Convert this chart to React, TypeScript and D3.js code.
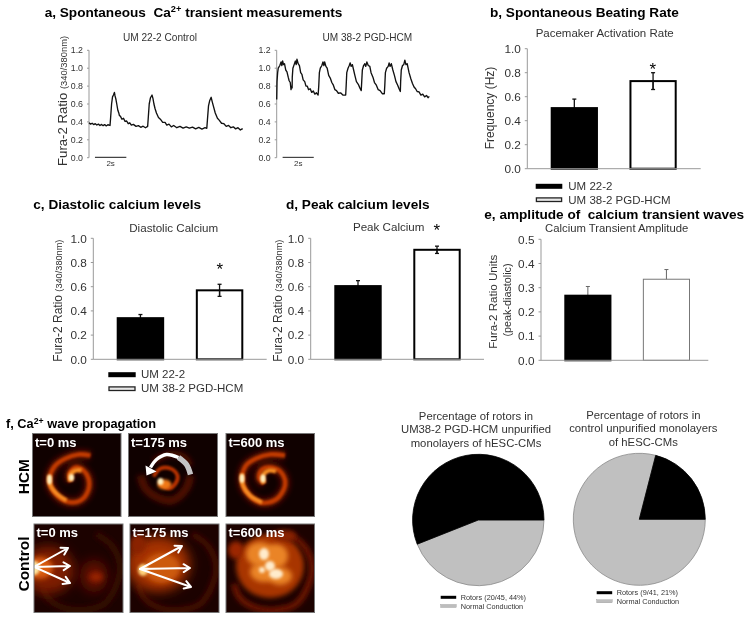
import React from "react";
import * as d3 from "d3";

const FONT = "'Liberation Sans', Arial, Helvetica, sans-serif";
const INK = "#333";

// ---------- panel a: traces [seconds, ratio] ----------
const traceControl: [number, number][] = [
  [0,.39],[.1,.375],[.2,.385],[.3,.37],[.4,.38],[.5,.365],[.6,.375],[.7,.36],[.8,.372],[.9,.358],[1,.37],[1.1,.355],[1.2,.368],[1.34,.36],
  [1.38,.45],[1.44,.6],[1.5,.68],[1.56,.7],[1.62,.73],[1.66,.69],[1.72,.65],[1.77,.6],[1.84,.53],[1.9,.5],[1.94,.47],[2,.465],[2.1,.43],[2.2,.44],[2.3,.405],[2.4,.41],[2.5,.38],[2.6,.39],[2.7,.365],[2.83,.372],[3,.35],[3.15,.358],[3.3,.34],[3.45,.352],[3.6,.335],[3.74,.35],
  [3.78,.45],[3.84,.6],[3.92,.67],[4.02,.7],[4.08,.66],[4.14,.6],[4.21,.55],[4.3,.5],[4.43,.45],[4.55,.43],[4.7,.395],[4.85,.395],[4.96,.365],[5.1,.375],[5.25,.345],[5.4,.36],[5.6,.335],[5.8,.35],[6,.33],[6.2,.345],[6.4,.33],[6.6,.342],[6.8,.322],[7,.338],[7.2,.32],[7.4,.335],[7.51,.328],
  [7.55,.42],[7.62,.58],[7.7,.64],[7.79,.675],[7.85,.63],[7.94,.57],[8.05,.5],[8.19,.44],[8.3,.42],[8.45,.385],[8.6,.38],[8.75,.35],[8.9,.36],[9.05,.335],[9.2,.345],[9.35,.322],[9.5,.335],[9.65,.31],[9.8,.325],
];
const traceHCM: [number, number][] = [
  [0,.65],[.02,.85],[.06,.95],[.1,1.0],[.2,1.03],[.28,1.07],[.33,1.03],[.38,1.08],[.44,1.04],[.5,1.05],[.58,.98],[.66,.96],[.74,.9],[.8,.86],[.87,.84],[.92,.76],[.96,.8],
  [.99,.78],[1.0,.9],[1.04,1.0],[1.12,1.04],[1.2,1.08],[1.25,1.04],[1.3,1.1],[1.38,1.05],[1.46,1.03],[1.54,.95],[1.62,.93],[1.7,.87],[1.8,.85],[1.88,.8],[1.96,.8],[2.05,.76],[2.15,.77],[2.25,.73],[2.35,.745],[2.45,.71],[2.55,.725],[2.66,.7],
  [2.7,.8],[2.74,.95],[2.8,1.0],[2.9,1.03],[2.97,1.07],[3.03,1.03],[3.08,1.07],[3.16,1.02],[3.24,1.0],[3.34,.92],[3.44,.89],[3.54,.84],[3.64,.81],[3.74,.76],[3.84,.75],[3.96,.72],[4.1,.725],[4.25,.7],[4.43,.7],
  [4.46,.8],[4.5,.95],[4.58,1.0],[4.66,1.03],[4.72,1.06],[4.78,1.02],[4.86,1.04],[4.94,.98],[5.02,.92],[5.12,.85],[5.24,.82],[5.34,.78],[5.43,.75],
  [5.46,.85],[5.5,.98],[5.58,1.03],[5.66,1.05],[5.72,1.02],[5.79,1.07],[5.88,1.03],[5.98,1.02],[6.06,.95],[6.18,.9],[6.28,.84],[6.4,.81],[6.52,.76],[6.64,.75],[6.78,.715],[6.91,.715],
  [6.94,.8],[6.98,.95],[7.06,1.0],[7.16,1.02],[7.22,1.06],[7.28,1.02],[7.36,1.05],[7.46,.98],[7.56,.92],[7.66,.85],[7.77,.81],[7.86,.77],[7.94,.74],
  [7.96,.85],[8.0,.98],[8.08,1.03],[8.16,1.04],[8.23,1.09],[8.3,1.04],[8.38,1.05],[8.5,.95],[8.62,.88],[8.72,.83],[8.82,.79],[8.92,.77],[9.02,.74],[9.14,.735],[9.26,.7],[9.38,.71],[9.5,.68],[9.62,.695],[9.72,.67],[9.8,.685],
];
const traceYTicks = [0, 0.2, 0.4, 0.6, 0.8, 1.0, 1.2];

// ---------- bars ----------
const groupNames = ["UM 22-2", "UM 38-2 PGD-HCM"];
const rateValues = [0.505, 0.73];
const rateHigh = [0.58, 0.80];
const rateLow = [0.505, 0.66];
const diastolicValues = [0.34, 0.57];
const diastolicHigh = [0.37, 0.62];
const diastolicLow = [0.34, 0.52];
const peakValues = [0.605, 0.905];
const peakHigh = [0.65, 0.935];
const peakLow = [0.605, 0.875];
const ampValues = [0.267, 0.335];
const ampHigh = [0.305, 0.375];
const ampLow = [0.267, 0.335];
const ticksUnit = [0, 0.2, 0.4, 0.6, 0.8, 1.0];
const ticksAmp = [0, 0.1, 0.2, 0.3, 0.4, 0.5];

// ---------- pies ----------
const pieLabels = ["Normal Conduction", "Rotors"];
const pieHCM = [44, 56];
const pieControl = [79, 21];
const pieColors = ["#c0c0c0", "#000"];

// ---------- heat-map curves, points in panel pixels ----------
type P = [number, number];
const spiral0: P[] = [[58,22],[46,21],[33,25],[22,33],[17,47],[21,58],[34,68],[48,67],[56,56],[56,45],[51,37],[43,34],[37,40],[38,48]];
const spiral0Hot1: P[] = [[17,42],[18,52],[24,60],[34,67]];
const spiral0Hot2: P[] = [[38,48],[38,41],[43,37],[49,37]];
const spiral600: P[] = [[59,22],[44,21],[30,25],[20,32],[16,45],[20,58],[34,69],[50,66],[59,52],[56,40],[46,34],[36,36],[33,44],[38,50]];
const spiral600Hot1: P[] = [[16,40],[17,52],[24,62],[36,69]];
const spiral600Hot2: P[] = [[38,50],[37,42],[43,37],[50,38]];
const spiral175Halo: P[] = [[12,42],[17,55],[27,63],[43,67],[57,56],[62,42]];
const spiral175Top: P[] = [[25,28],[40,21],[55,23],[62,32]];
const spiral175: P[] = [[33,50],[40,55],[47,50],[49,42],[42,35],[32,35],[25,43]];
const ring: P[] = [[8,60],[14,74],[30,84],[50,86],[70,80],[82,62],[86,42],[78,22],[62,10]];
const turnGrey: P[] = [[62,41],[58,31],[50,24]];
const turnWhite: P[] = [[50,24],[38,21],[28,26],[22,34]];
const turnHead: P[] = [[18,42],[17,32],[28,38]];
const fanC0: P[] = [[0,43]];
const fanC0Tips: P[] = [[34,24],[36,42],[36,59]];
const fanC175: P[] = [[10,45]];
const fanC175Tips: P[] = [[52,22],[60,44],[61,63]];
const mottleOrange: number[][] = [[34,30,14,12],[50,32,12,12],[38,48,14,10],[54,52,12,9]];
const mottleWhite: number[][] = [[38,30,5,6],[44,42,5,5],[50,50,7,5],[36,46,3,3]];

function line(pts: P[]) {
  return d3.line().curve(d3.curveCatmullRom.alpha(0.5))(pts) as string;
}

function Txt(p: any) {
  return <text fontFamily={FONT} fill={INK} {...p} />;
}

function Sup({ children }: any) {
  return <tspan fontSize="0.68em" dy="-4.5">{children}</tspan>;
}

function TracePanel({ left, right, data, title, titleX }: any) {
  const top = 50.3, bottom = 157.7;
  const y = d3.scaleLinear().domain([0, 1.2]).range([bottom, top]);
  const x = d3.scaleLinear().domain([0, 9.8]).range([left, right]);
  const d = d3.line().x((v: any) => x(v[0])).y((v: any) => y(v[1]))(data) as string;
  return (
    <g>
      <Txt x={titleX} y={41.3} textAnchor="middle" fontSize={10.1}>{title}</Txt>
      <line x1={left} x2={left} y1={top} y2={bottom} stroke="#999" />
      {traceYTicks.map((t) => (
        <g key={t}>
          <line x1={left - 2} x2={left} y1={y(t)} y2={y(t)} stroke="#999" />
          <Txt x={left - 6} y={y(t)} dy="0.35em" textAnchor="end" fontSize={8.8}>{t.toFixed(1)}</Txt>
        </g>
      ))}
      <path d={d} fill="none" stroke="#111" strokeWidth={1.35} strokeLinejoin="round" />
      <line x1={x(0.38)} x2={x(2.38)} y1={bottom - 0.3} y2={bottom - 0.3} stroke="#444" strokeWidth={1.2} />
      <Txt x={x(1.38)} y={166} textAnchor="middle" fontSize={8}>2s</Txt>
    </g>
  );
}

function BarPanel(p: any) {
  const { axisX, baseEnd, yTop, yBottom, domainMax, ticks, values, high, low, r0, r1, thin } = p;
  const y = d3.scaleLinear().domain([0, domainMax]).range([yBottom, yTop]);
  const x = d3.scaleBand<string>().domain(groupNames).range([r0, r1]).paddingInner(0.4);
  const w = x.bandwidth();
  return (
    <g>
      <line x1={axisX} x2={axisX} y1={yTop} y2={yBottom} stroke="#999" />
      {ticks.map((t: number) => (
        <g key={t}>
          <line x1={axisX - 2.5} x2={axisX} y1={y(t)} y2={y(t)} stroke="#999" />
          <Txt x={axisX - 6.5} y={y(t)} dy="0.36em" textAnchor="end" fontSize={11.8}>{t.toFixed(1)}</Txt>
        </g>
      ))}
      {groupNames.map((g, i) => {
        const X = x(g) as number;
        const black = i === 0;
        const sw = thin && !black ? 1 : 2;
        const stroke = thin && !black ? "#777" : "#000";
        const cx = X + w / 2;
        const errC = thin ? "#666" : "#111";
        return (
          <g key={g}>
            <line x1={cx} x2={cx} y1={y(high[i])} y2={y(low[i])} stroke={errC} strokeWidth={thin ? 1 : 1.3} />
            <line x1={cx - 2} x2={cx + 2} y1={y(high[i])} y2={y(high[i])} stroke={errC} strokeWidth={thin ? 1 : 1.3} />
            {!thin && !black && <line x1={cx - 2} x2={cx + 2} y1={y(low[i])} y2={y(low[i])} stroke={errC} strokeWidth={1.3} />}
            <rect x={X + sw / 2} y={y(values[i])} width={w - sw} height={yBottom - y(values[i])}
              fill={black ? "#000" : "none"} stroke={stroke} strokeWidth={sw} />
            {!thin && !black && <line x1={cx} x2={cx} y1={y(values[i])} y2={y(low[i])} stroke={errC} strokeWidth={1.3} />}
          </g>
        );
      })}
      <line x1={axisX} x2={baseEnd} y1={yBottom} y2={yBottom} stroke="#999" />
    </g>
  );
}

function BarLegend({ swatchX, swatchW, textX, y1, y2, baseOff }: any) {
  return (
    <g>
      <rect x={swatchX} y={y1 - 2.5} width={swatchW} height={5} fill="#000" />
      <rect x={swatchX + 0.7} y={y2 - 1.8} width={swatchW - 1.4} height={3.6} fill="#e8e8e8" stroke="#222" strokeWidth={1.3} />
      <Txt x={textX} y={y1 + baseOff} fontSize={11.5}>{groupNames[0]}</Txt>
      <Txt x={textX} y={y2 + baseOff} fontSize={11.5}>{groupNames[1]}</Txt>
    </g>
  );
}

function Pie({ cx, cy, r, values }: any) {
  const arcs = d3.pie<number>().sort(null).startAngle(Math.PI / 2).endAngle(Math.PI * 2.5)(values);
  const arc = d3.arc<any>().innerRadius(0).outerRadius(r);
  return (
    <g transform={`translate(${cx},${cy})`}>
      {arcs.map((a, i) => (
        <path key={i} d={arc(a) as string} fill={pieColors[i]} stroke={i ? "#000" : "#8a8a8a"} strokeWidth={0.8} />
      ))}
    </g>
  );
}

function PieLegend({ x, y1, y2, rotors }: any) {
  return (
    <g>
      <rect x={x} y={y1 - 1.5} width={15.5} height={3} fill="#000" />
      <rect x={x} y={y2 - 1.5} width={15.5} height={3} fill="#bdbdbd" stroke="#999" strokeWidth={0.4} />
      <Txt x={x + 20} y={y1 + 2.5} fontSize={7.3}>{rotors}</Txt>
      <Txt x={x + 20} y={y2 + 2.5} fontSize={7.3}>{pieLabels[0]}</Txt>
    </g>
  );
}

function SpiralArt({ main, hotA, hotB, spots }: any) {
  return (
    <g>
      <path d={line(main)} fill="none" stroke="#560e00" strokeWidth={10} filter="url(#b3)" />
      <path d={line(main)} fill="none" stroke="#c03a06" strokeWidth={4.6} filter="url(#b1)" />
      <path d={line(hotA)} fill="none" stroke="#f68c24" strokeWidth={4} filter="url(#b1)" />
      <path d={line(hotB)} fill="none" stroke="#f68c24" strokeWidth={4.4} filter="url(#b1)" />
      {spots.map((s: number[], i: number) => (
        <ellipse key={i} cx={s[0]} cy={s[1]} rx={s[2]} ry={s[3]} fill="#fff0c0" filter="url(#b1)" />
      ))}
    </g>
  );
}

function Heat({ x, y, w, h, id, bg, label, children }: any) {
  return (
    <g transform={`translate(${x},${y})`}>
      <clipPath id={id}><rect width={w} height={h} /></clipPath>
      <g clipPath={`url(#${id})`}>
        <rect width={w} height={h} fill={bg} />
        {children}
      </g>
      <rect width={w} height={h} fill="none" stroke="#777" strokeWidth={1} />
      <text x={2.5} y={13} fontFamily={FONT} fontWeight="bold" fontSize={13} fill="#fff">{label}</text>
    </g>
  );
}

function Fan({ from, tips }: any) {
  const [ox, oy] = from[0];
  return (
    <g stroke="#fff" strokeWidth={2} fill="none" strokeLinecap="round" strokeLinejoin="round">
      {tips.map((t: P, i: number) => {
        const a = Math.atan2(t[1] - oy, t[0] - ox);
        const k = 7.5;
        const hd = (s: number) => [t[0] - k * Math.cos(a + s * 0.55), t[1] - k * Math.sin(a + s * 0.55)];
        const u = hd(1), v = hd(-1);
        return <path key={i} d={`M${ox},${oy}L${t[0]},${t[1]}M${u[0]},${u[1]}L${t[0]},${t[1]}L${v[0]},${v[1]}`} />;
      })}
    </g>
  );
}

function Blob({ c, f, fill }: any) {
  return <ellipse cx={c[0]} cy={c[1]} rx={c[2]} ry={c[3]} fill={fill} filter={`url(#${f})`} />;
}

export default function App() {
  const boldTitle = { fontWeight: "bold", fill: "#000", fontSize: 13.6 } as any;
  const star = { textAnchor: "middle", fontSize: 17, fill: "#000" } as any;
  return (
    <svg width={751} height={619} viewBox="0 0 751 619" style={{ position: "absolute", left: 0, top: 0, background: "#fff" }}>
      <defs>
        <filter id="b05" x="-50%" y="-50%" width="200%" height="200%"><feGaussianBlur stdDeviation="0.7" /></filter>
        <filter id="b1" x="-50%" y="-50%" width="200%" height="200%"><feGaussianBlur stdDeviation="1" /></filter>
        <filter id="b2" x="-50%" y="-50%" width="200%" height="200%"><feGaussianBlur stdDeviation="1.6" /></filter>
        <filter id="b3" x="-50%" y="-50%" width="200%" height="200%"><feGaussianBlur stdDeviation="2.6" /></filter>
        <filter id="b6" x="-80%" y="-80%" width="260%" height="260%"><feGaussianBlur stdDeviation="6" /></filter>
      </defs>

      <g style={{ filter: "blur(0.35px)" }}>
      {/* panel titles */}
      <Txt x={44.7} y={16.5} {...boldTitle}>a, Spontaneous{"\u00A0 "}Ca<Sup>2+</Sup><tspan dy="4.5"> transient measurements</tspan></Txt>
      <Txt x={490} y={16.5} {...boldTitle}>b, Spontaneous Beating Rate</Txt>
      <Txt x={33.3} y={208.5} {...boldTitle}>c, Diastolic calcium levels</Txt>
      <Txt x={286} y={208.5} {...boldTitle}>d, Peak calcium levels</Txt>
      <Txt x={484.3} y={219} {...boldTitle}>e, amplitude of{"\u00A0 "}calcium transient waves</Txt>
      <Txt x={6} y={428} {...boldTitle} fontSize={12.8}>f, Ca<Sup>2+</Sup><tspan dy="4.5"> wave propagation</tspan></Txt>

      {/* a */}
      <TracePanel left={89} right={242.7} data={traceControl} title="UM 22-2 Control" titleX={160} />
      <TracePanel left={276.7} right={429.3} data={traceHCM} title="UM 38-2 PGD-HCM" titleX={367.3} />
      <Txt transform="translate(67,166) rotate(-90)" fontSize={13.2}>Fura-2 Ratio <tspan fontSize={9.4}>(340/380nm)</tspan></Txt>

      {/* b */}
      <Txt x={604.7} y={37} textAnchor="middle" fontSize={11.5}>Pacemaker Activation Rate</Txt>
      <BarPanel axisX={527.3} baseEnd={700.7} yTop={48.7} yBottom={168.7} domainMax={1} ticks={ticksUnit}
        values={rateValues} high={rateHigh} low={rateLow} r0={550.7} r1={676.7} />
      <Txt x={652.7} y={74.5} {...star}>*</Txt>
      <Txt transform="translate(494,108) rotate(-90)" textAnchor="middle" fontSize={12}>Frequency (Hz)</Txt>
      <BarLegend swatchX={535.7} swatchW={26.6} textX={568.3} y1={186.3} y2={199.7} baseOff={3.8} />

      {/* c */}
      <Txt x={173.7} y={231.5} textAnchor="middle" fontSize={11.6}>Diastolic Calcium</Txt>
      <BarPanel axisX={93.3} baseEnd={266.7} yTop={238.3} yBottom={359.3} domainMax={1} ticks={ticksUnit}
        values={diastolicValues} high={diastolicHigh} low={diastolicLow} r0={116.7} r1={243.3} />
      <Txt x={219.7} y={275} {...star}>*</Txt>
      <Txt transform="translate(62.3,361.7) rotate(-90)" fontSize={12}>Fura-2 Ratio <tspan fontSize={9.2}>(340/380nm)</tspan></Txt>
      <BarLegend swatchX={108.3} swatchW={27.4} textX={141} y1={374.7} y2={388.7} baseOff={3.7} />

      {/* d */}
      <Txt x={388.7} y={230.5} textAnchor="middle" fontSize={11.6}>Peak Calcium</Txt>
      <BarPanel axisX={310.7} baseEnd={484} yTop={238.3} yBottom={359.3} domainMax={1} ticks={ticksUnit}
        values={peakValues} high={peakHigh} low={peakLow} r0={334.3} r1={460.7} />
      <Txt x={436.7} y={235.5} {...star}>*</Txt>
      <Txt transform="translate(281.7,361.7) rotate(-90)" fontSize={12}>Fura-2 Ratio <tspan fontSize={9.2}>(340/380nm)</tspan></Txt>

      {/* e */}
      <Txt x={616.7} y={232.3} textAnchor="middle" fontSize={11.3}>Calcium Transient Amplitude</Txt>
      <BarPanel axisX={541} baseEnd={708.3} yTop={239.3} yBottom={360.3} domainMax={0.5} ticks={ticksAmp}
        values={ampValues} high={ampHigh} low={ampLow} r0={564.3} r1={690} thin />
      <Txt transform="translate(497.3,301.7) rotate(-90)" textAnchor="middle" fontSize={11.6}>Fura-2 Ratio Units</Txt>
      <Txt transform="translate(510.7,300) rotate(-90)" textAnchor="middle" fontSize={10.8}>(peak-diastolic)</Txt>

      {/* f */}
      <text transform="translate(28.5,476.7) rotate(-90)" textAnchor="middle" fontFamily={FONT} fontWeight="bold" fontSize={15.5}>HCM</text>
      <text transform="translate(28.5,564) rotate(-90)" textAnchor="middle" fontFamily={FONT} fontWeight="bold" fontSize={15.5}>Control</text>

      <Heat id="h1" x={32.5} y={433.5} w={88.5} h={83} bg="#100100" label="t=0 ms">
        <SpiralArt main={spiral0} hotA={spiral0Hot1} hotB={spiral0Hot2} spots={[[17,46,2.4,5],[39,44,2.6,3.6]]} />
      </Heat>
      <Heat id="h2" x={128.5} y={433.5} w={89} h={83} bg="#100100" label="t=175 ms">
        <path d={line(spiral175Halo)} fill="none" stroke="#501000" strokeWidth={8} filter="url(#b3)" />
        <path d={line(spiral175Top)} fill="none" stroke="#501000" strokeWidth={6} filter="url(#b3)" />
        <path d={line(spiral175)} fill="none" stroke="#b83204" strokeWidth={4} filter="url(#b1)" />
        <Blob c={[36,51,7,5]} f="b2" fill="#f07818" />
        <Blob c={[32,48,3,3.6]} f="b1" fill="#fff0c0" />
        <path d={line(turnGrey)} fill="none" stroke="#c4c4c4" strokeWidth={5.5} />
        <path d={line(turnWhite)} fill="none" stroke="#fff" strokeWidth={3.4} />
        <path d={d3.line()(turnHead) + "Z"} fill="#fff" />
      </Heat>
      <Heat id="h3" x={226} y={433.5} w={88.5} h={83} bg="#100100" label="t=600 ms">
        <SpiralArt main={spiral600} hotA={spiral600Hot1} hotB={spiral600Hot2} spots={[[16,45,2.4,4.4],[37,45,2.6,4]]} />
      </Heat>

      <Heat id="h4" x={34} y={524} w={89} h={88.5} bg="#1c0200" label="t=0 ms">
        <path d={line(ring)} fill="none" stroke="#340700" strokeWidth={7} filter="url(#b3)" />
        <Blob c={[14,46,26,24]} f="b6" fill="#7e1a00" />
        <Blob c={[60,52,14,16]} f="b6" fill="#5e1000" />
        <Blob c={[62,53,7,5]} f="b3" fill="#962400" />
        <Blob c={[6,44,13,11]} f="b3" fill="#d85a0c" />
        <Blob c={[0,44,6,7]} f="b2" fill="#ffe6a0" />
        <Fan from={fanC0} tips={fanC0Tips} />
      </Heat>
      <Heat id="h5" x={130} y={524} w={89} h={88.5} bg="#1c0200" label="t=175 ms">
        <path d={line(ring)} fill="none" stroke="#440900" strokeWidth={6} filter="url(#b3)" />
        <Blob c={[28,40,32,28]} f="b6" fill="#a53000" />
        <Blob c={[32,44,18,15]} f="b3" fill="#cc5a0c" />
        <Blob c={[13,46,5,6]} f="b2" fill="#ffd47c" />
        <Blob c={[8,20,8,10]} f="b3" fill="#8a2000" />
        <Fan from={fanC175} tips={fanC175Tips} />
      </Heat>
      <Heat id="h6" x={226} y={524} w={88.5} h={88.5} bg="#1c0200" label="t=600 ms">
        <path d={line(ring)} fill="none" stroke="#701400" strokeWidth={6} filter="url(#b3)" />
        <Blob c={[44,42,34,32]} f="b3" fill="#a83604" />
        <Blob c={[10,26,8,9]} f="b3" fill="#9c2600" />
        <Blob c={[58,12,12,6]} f="b3" fill="#8a2000" />
        {mottleOrange.map((c, i) => <Blob key={i} c={c} f="b3" fill="#ea8426" />)}
        {mottleWhite.map((c, i) => <Blob key={i} c={c} f="b2" fill="#ffeccc" />)}
      </Heat>

      {/* pies */}
      {["Percentage of rotors in", "UM38-2 PGD-HCM unpurified", "monolayers of hESC-CMs"].map((s, i) => (
        <Txt key={s} x={476} y={[420, 433.3, 447][i]} textAnchor="middle" fontSize={11.3}>{s}</Txt>
      ))}
      {["Percentage of rotors in", "control unpurified monolayers", "of hESC-CMs"].map((s, i) => (
        <Txt key={s} x={643.3} y={[419, 432.3, 446][i]} textAnchor="middle" fontSize={11.3}>{s}</Txt>
      ))}
      <Pie cx={478.3} cy={520} r={65.7} values={pieHCM} />
      <Pie cx={639.3} cy={519.3} r={66} values={pieControl} />
      <PieLegend x={440.7} y1={597.3} y2={606} rotors="Rotors (20/45, 44%)" />
      <PieLegend x={596.7} y1={592.7} y2={601.3} rotors="Rotors (9/41, 21%)" />
      </g>
    </svg>
  );
}
